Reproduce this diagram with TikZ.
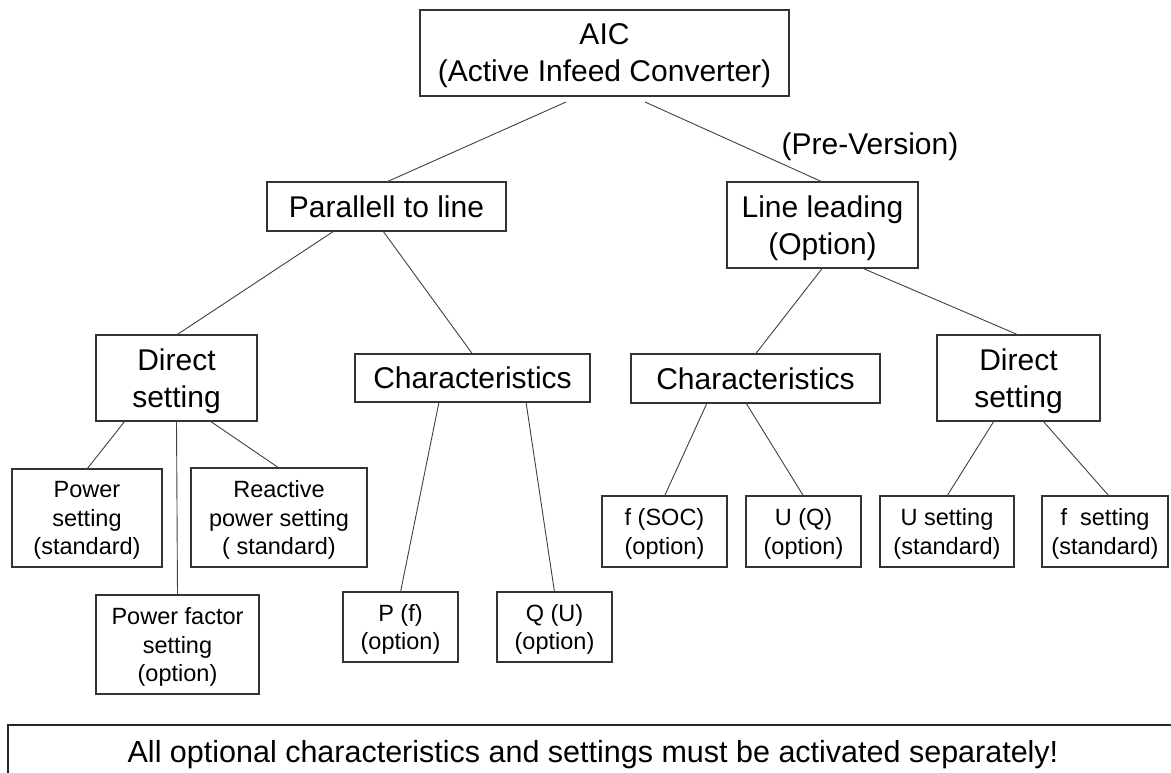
\documentclass[tikz,border=0pt]{standalone}
\usepackage{fontspec}
\setmainfont{Liberation Sans}
\usetikzlibrary{calc}
\tikzset{
  box/.style={draw=black!80, line width=1.2pt, fill=white, inner sep=0pt, outer sep=0pt, align=center, text=black, text depth=0pt},
  big/.style={box, font=\fontsize{30}{37}\selectfont},
  small/.style={box, font=\fontsize{23.5}{28.5}\selectfont},
  conn/.style={draw=black!75, line width=0.9pt},
  plain/.style={inner sep=0pt, text depth=0pt, text=black},
}
\begin{document}
\begin{tikzpicture}[x=1pt, y=-1pt]
\useasboundingbox (0,0) rectangle (1171,772);
% level 0
\node[big, minimum width=369, minimum height=86] (aic) at (604.5,53) {AIC\\(Active Infeed Converter)};
\node[plain, font=\fontsize{30}{37}\selectfont] (pre) at (870,144) {(Pre-Version)};
% level 1
\node[big, minimum width=239, minimum height=49] (par) at (386.5,206.5) {Parallell to line};
\node[big, minimum width=191, minimum height=86] (lead) at (822.5,225) {Line leading\\(Option)};
% level 2
\node[big, minimum width=161, minimum height=86] (dirL) at (176.5,378) {Direct\\setting};
\node[big, minimum width=235, minimum height=48] (charL) at (472.5,378) {Characteristics};
\node[big, minimum width=249, minimum height=49] (charR) at (755.5,378.5) {Characteristics};
\node[big, minimum width=163, minimum height=86] (dirR) at (1018.5,378) {Direct\\setting};
% level 3
\node[small, minimum width=150, minimum height=98] (pow) at (87,518) {Power\\setting\\(standard)};
\node[small, minimum width=176, minimum height=99] (reac) at (279,517.5) {Reactive\\power setting\\( standard)};
\node[small, minimum width=163, minimum height=99] (pf) at (177.5,644.5) {Power factor\\setting\\(option)};
\node[small, minimum width=115, minimum height=70] (pff) at (400.5,627) {P (f)\\(option)};
\node[small, minimum width=115, minimum height=70] (qu) at (554.5,627) {Q (U)\\(option)};
\node[small, minimum width=125, minimum height=71] (fsoc) at (664.5,531.5) {f (SOC)\\(option)};
\node[small, minimum width=115, minimum height=71] (uq) at (803.5,531.5) {U (Q)\\(option)};
\node[small, minimum width=134, minimum height=71] (uset) at (947,531.5) {U setting\\(standard)};
\node[small, minimum width=126, minimum height=71] (fset) at (1105,531.5) {f\ \ setting\\(standard)};
% connectors
\draw[conn] ([xshift=-38.5pt,yshift=-6pt]aic.south) -- (par.north);
\draw[conn] ([xshift=40.5pt,yshift=-6pt]aic.south) -- (lead.north);
\draw[conn] ([xshift=-52.5pt]par.south) -- (dirL.north);
\draw[conn] ([xshift=-3.5pt]par.south) -- (charL.north);
\draw[conn] ([xshift=-51.5pt]dirL.south) -- (pow.north);
\draw[conn] ([xshift=33.5pt]dirL.south) -- (reac.north);
\draw[conn] (dirL.south) -- (pf.north);
\draw[conn] ([xshift=-33.5pt]charL.south) -- (pff.north);
\draw[conn] ([xshift=53.5pt]charL.south) -- (qu.north);
\draw[conn] (lead.south) -- (charR.north);
\draw[conn] ([xshift=39.5pt]lead.south) -- (dirR.north);
\draw[conn] ([xshift=-48.5pt]charR.south) -- (fsoc.north);
\draw[conn] ([xshift=-9.5pt]charR.south) -- (uq.north);
\draw[conn] ([xshift=-24.5pt]dirR.south) -- (uset.north);
\draw[conn] ([xshift=24.5pt]dirR.south) -- ([xshift=4pt]fset.north);
% bottom note
\begin{scope}
\clip (0,0) rectangle (1171,772);
\draw[black!85, line width=1.4pt] (8,790) |- (1190,725);
\end{scope}
\node[plain, font=\fontsize{30.5}{37}\selectfont] (note) at (593,751) {All optional characteristics and settings must be activated separately!};
\end{tikzpicture}
\end{document}
